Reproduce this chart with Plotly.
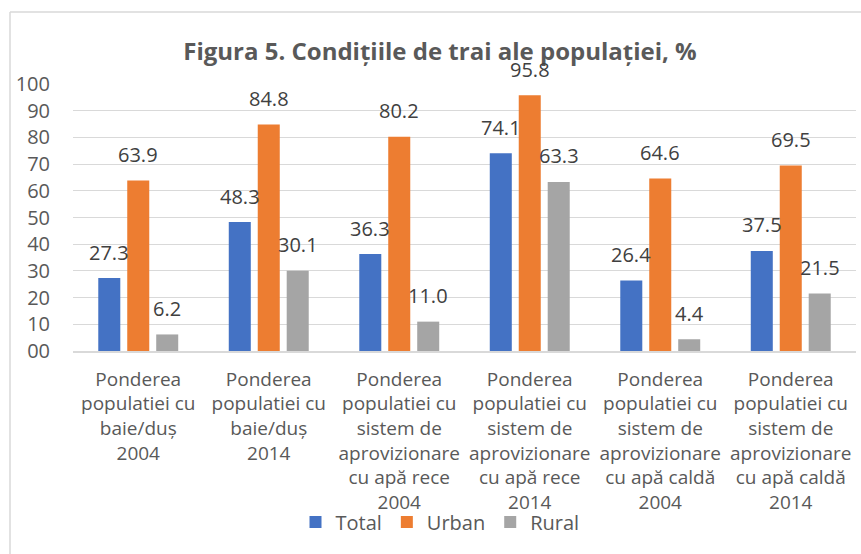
import plotly.graph_objects as go

categories = [
    "Ponderea<br>populatiei cu<br>baie/duș<br>2004",
    "Ponderea<br>populatiei cu<br>baie/duș<br>2014",
    "Ponderea<br>populatiei cu<br>sistem de<br>aprovizionare<br>cu apă rece<br>2004",
    "Ponderea<br>populatiei cu<br>sistem de<br>aprovizionare<br>cu apă rece<br>2014",
    "Ponderea<br>populatiei cu<br>sistem de<br>aprovizionare<br>cu apă caldă<br>2004",
    "Ponderea<br>populatiei cu<br>sistem de<br>aprovizionare<br>cu apă caldă<br>2014",
]
total = [27.3, 48.3, 36.3, 74.1, 26.4, 37.5]
urban = [63.9, 84.8, 80.2, 95.8, 64.6, 69.5]
rural = [6.2, 30.1, 11.0, 63.3, 4.4, 21.5]
series_names = ["Total", "Urban", "Rural"]
colors = ["#4472C4", "#ED7D31", "#A5A5A5"]
ytick_vals = [0, 10, 20, 30, 40, 50, 60, 70, 80, 90, 100]
ytick_text = ["00", "10", "20", "30", "40", "50", "60", "70", "80", "90", "100"]

FONT = "Open Sans"
W, H = 861, 554
ML, MR, MT, MB = 73, 5, 84, 203
pw = W - ML - MR
ph = H - MT - MB
BARGAP = 0.334

fig = go.Figure()
series = [total, urban, rural]
for name, vals, col in zip(series_names, series, colors):
    fig.add_trace(go.Bar(x=categories, y=vals, name=name, marker_color=col,
                         marker_line_width=0, hoverinfo="skip"))

slot = pw / len(categories) * (1 - BARGAP) / 3
annotations = []
for i, vals in enumerate(series):
    for c, v in zip(categories, vals):
        annotations.append(dict(
            x=c, y=v, xref="x", yref="y", text=f"{v:.1f}", showarrow=False,
            xshift=(i - 1) * slot, yshift=26, yanchor="middle",
            font=dict(family=FONT, size=20, color="#404040")))

def px_x(p):
    return (p - ML) / pw

def px_y(p):
    return (H - MB - p) / ph

shapes = [
    dict(type="line", xref="paper", yref="paper", x0=px_x(10), x1=px_x(870),
         y0=px_y(12), y1=px_y(12), line=dict(color="#d9d9d9", width=1.5)),
    dict(type="line", xref="paper", yref="paper", x0=px_x(10), x1=px_x(10),
         y0=px_y(12), y1=px_y(560), line=dict(color="#d9d9d9", width=1.5)),
]

fig.update_layout(
    width=W, height=H,
    margin=dict(l=ML, r=MR, t=MT, b=MB),
    paper_bgcolor="white", plot_bgcolor="white",
    barmode="group", bargap=BARGAP, bargroupgap=0.24,
    title=dict(text="<b>Figura 5. Condițiile de trai ale populației, %</b>",
               x=440 / W, xanchor="center", y=1 - 52 / H, yanchor="middle",
               font=dict(family=FONT, size=24, color="#595959")),
    font=dict(family=FONT, color="#595959"),
    legend=dict(orientation="h", x=(440 - ML) / pw, xanchor="center",
                y=px_y(522), yanchor="middle", bgcolor="rgba(0,0,0,0)",
                font=dict(family=FONT, size=20, color="#595959"),
                itemclick=False),
    annotations=annotations,
    shapes=shapes,
)
fig.update_yaxes(range=[0, 100], tickvals=ytick_vals, ticktext=ytick_text,
                 showgrid=True, gridcolor="#d9d9d9", gridwidth=1,
                 zeroline=False, showline=False, ticks="",
                 ticklabelstandoff=22,
                 tickfont=dict(family=FONT, size=20, color="#595959"))
fig.update_xaxes(showline=True, linecolor="#d9d9d9", linewidth=1.5, ticks="",
                 ticklabelstandoff=10,
                 tickfont=dict(family=FONT, size=19, color="#595959"))

fig.write_html("out.html", config={"displayModeBar": False},
               post_script="document.body.style.margin='0';document.body.style.overflow='hidden';")
